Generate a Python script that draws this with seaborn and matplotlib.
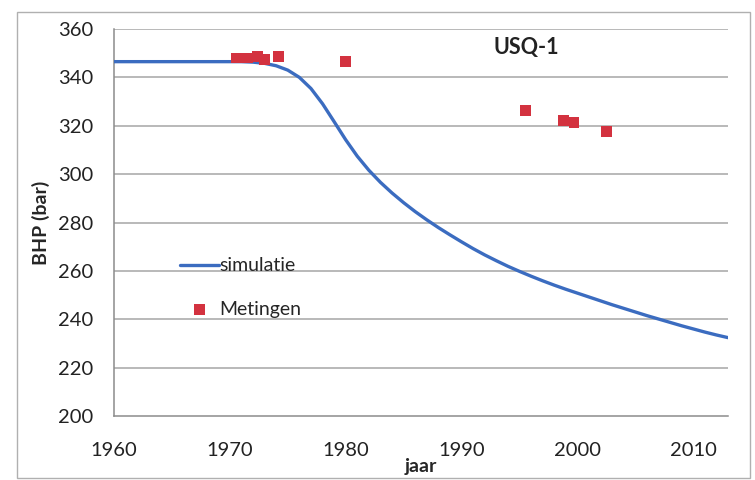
import matplotlib
matplotlib.use("Agg")
import matplotlib.pyplot as plt
import seaborn as sns
import pandas as pd
from matplotlib.patches import Rectangle

sim_years = [1960, 1965, 1970, 1971, 1972, 1973, 1974, 1975, 1976, 1977, 1978, 1979, 1980,
             1981, 1982, 1983, 1984, 1985, 1986, 1987, 1988, 1989, 1990, 1991,
             1992, 1993, 1994, 1995, 1996, 1997, 1998, 1999, 2000, 2001, 2002,
             2003, 2004, 2005, 2006, 2007, 2008, 2009, 2010, 2011, 2012, 2013]
sim_bhp = [346.5, 346.5, 346.5, 346.5, 346.3, 345.8, 344.8, 343.0, 340.0, 335.4, 329.1,
           321.7, 314.2, 307.4, 301.6, 296.6, 292.2, 288.2, 284.5, 281.1, 277.9, 274.9,
           272.0, 269.2, 266.6, 264.2, 261.9, 259.8, 257.8, 255.9, 254.1, 252.4, 250.8,
           249.2, 247.6, 246.0, 244.5, 243.0, 241.5, 240.1, 238.7, 237.3, 236.0, 234.7,
           233.5, 232.4]

meas_years = [1970.6, 1971.1, 1971.5, 1972.4, 1973.0, 1974.2, 1980.0,
              1995.5, 1998.8, 1999.7, 2002.5]
meas_bhp = [348.0, 348.0, 348.0, 348.5, 347.5, 348.5, 346.7,
            326.4, 322.2, 321.2, 317.5]

x_ticks = [1960, 1970, 1980, 1990, 2000, 2010]
y_ticks = [200, 220, 240, 260, 280, 300, 320, 340, 360]

sns.set_theme(style="white")
plt.rcParams['font.family'] = ['Lato', 'DejaVu Sans']

fig = plt.figure(figsize=(7.55, 4.8), dpi=100)
fig.patches.append(Rectangle((17/755, 2/480), 733/755, 466/480, transform=fig.transFigure,
                             fill=False, edgecolor="#b0b0b0", linewidth=1.0))
ax = fig.add_axes([114/755, 1 - 416/480, (728 - 114)/755, (416 - 29)/480])

sim_df = pd.DataFrame({"jaar": sim_years, "BHP": sim_bhp})
meas_df = pd.DataFrame({"jaar": meas_years, "BHP": meas_bhp})

for y in y_ticks[1:]:
    ax.axhline(y, color="#a6a6a6", linewidth=1.1, zorder=0)

sns.lineplot(data=sim_df, x="jaar", y="BHP", ax=ax, color="#3b6cc0", linewidth=2.4,
             label="simulatie", zorder=3)
sns.scatterplot(data=meas_df, x="jaar", y="BHP", ax=ax, color="#d3323f", marker="s",
                s=60, edgecolor="none", label="Metingen", zorder=4)

ax.set_xlim(1960, 2013)
ax.set_ylim(200, 360)
ax.set_xticks(x_ticks)
ax.set_yticks(y_ticks)
ax.tick_params(axis="both", labelsize=14.5, colors="#222222", length=4, direction="out",
               color="#888888")
ax.tick_params(axis="x", pad=15)
ax.tick_params(axis="y", pad=11)
for s in ["top", "right"]:
    ax.spines[s].set_visible(False)
for s in ["left", "bottom"]:
    ax.spines[s].set_color("#8c8c8c")
    ax.spines[s].set_linewidth(1.1)

ax.set_xlabel("jaar", fontsize=14, fontweight="bold", labelpad=-1)
ax.set_ylabel("BHP (bar)", fontsize=14, fontweight="bold", labelpad=6)
ax.text(1995.6, 352.5, "USQ-1", fontsize=15.5, fontweight="bold", ha="center", va="center",
        color="#222222")

leg = ax.legend(loc="upper left", bbox_to_anchor=(0.107, 0.41), frameon=False,
                fontsize=14, handlelength=2.0, handletextpad=0.05, labelspacing=1.35,
                borderpad=0, borderaxespad=0)

fig.savefig("out.png", dpi=100)
